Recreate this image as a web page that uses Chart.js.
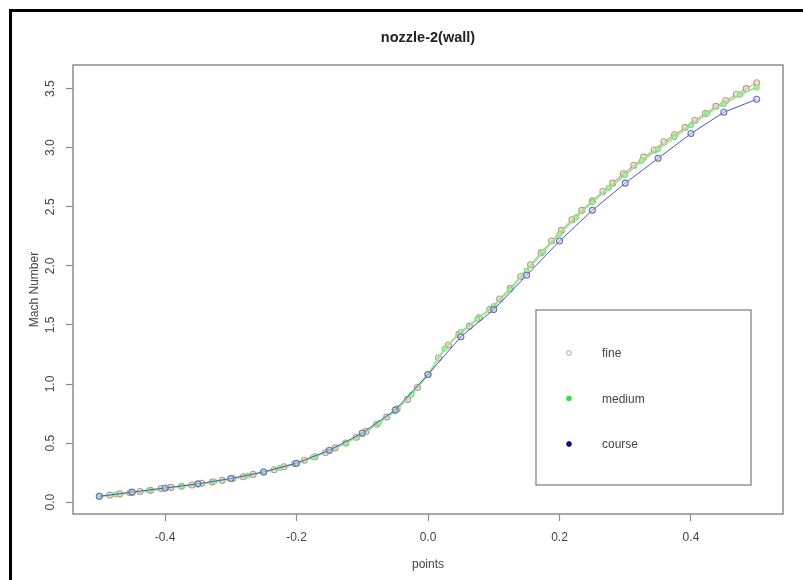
<!DOCTYPE html>
<html>
<head>
<meta charset="utf-8">
<script src="https://cdn.jsdelivr.net/npm/chart.js@4/dist/chart.umd.min.js"></script>
<style>
  html, body { margin: 0; padding: 0; background: #fff; }
  #wrap { width: 803px; height: 580px; position: relative; }
</style>
</head>
<body>
<div id="wrap"><canvas id="c" width="803" height="580"></canvas></div>
<script>
// ---- data ----
const chartTitle = "nozzle-2(wall)";
const xAxisTitle = "points";
const yAxisTitle = "Mach Number";
const seriesNames = ["fine", "medium", "course"];

const xTicks = [-0.4, -0.2, 0.0, 0.2, 0.4];
const yTicks = [0.0, 0.5, 1.0, 1.5, 2.0, 2.5, 3.0, 3.5];

const fineX = [-0.5, -0.484, -0.469, -0.453, -0.438, -0.422, -0.406, -0.391, -0.375, -0.359,
  -0.344, -0.328, -0.313, -0.297, -0.281, -0.266, -0.25, -0.234, -0.219, -0.203,
  -0.188, -0.172, -0.156, -0.141, -0.125, -0.109, -0.094, -0.078, -0.063, -0.047,
  -0.031, -0.016, 0.0, 0.016, 0.031, 0.047, 0.063, 0.078, 0.094, 0.109,
  0.125, 0.141, 0.156, 0.172, 0.188, 0.203, 0.219, 0.234, 0.25, 0.266,
  0.281, 0.297, 0.313, 0.328, 0.344, 0.359, 0.375, 0.391, 0.406, 0.422,
  0.438, 0.453, 0.469, 0.484, 0.5];
const fineY = [0.05, 0.06, 0.07, 0.08, 0.09, 0.10, 0.115, 0.125, 0.135, 0.145,
  0.16, 0.17, 0.185, 0.20, 0.215, 0.235, 0.255, 0.275, 0.30, 0.325,
  0.355, 0.385, 0.42, 0.46, 0.50, 0.55, 0.60, 0.66, 0.72, 0.79,
  0.87, 0.97, 1.08, 1.22, 1.33, 1.42, 1.49, 1.56, 1.63, 1.72,
  1.81, 1.91, 2.01, 2.11, 2.21, 2.30, 2.39, 2.47, 2.55, 2.63,
  2.70, 2.78, 2.85, 2.92, 2.98, 3.05, 3.11, 3.17, 3.23, 3.29,
  3.35, 3.40, 3.45, 3.50, 3.55];

const mediumX = [-0.5, -0.475, -0.45, -0.425, -0.4, -0.375, -0.35, -0.325, -0.3, -0.275,
  -0.25, -0.225, -0.2, -0.175, -0.15, -0.125, -0.1, -0.075, -0.05, -0.025,
  0.0, 0.025, 0.05, 0.075, 0.1, 0.125, 0.15, 0.175, 0.2, 0.225,
  0.25, 0.275, 0.3, 0.325, 0.35, 0.375, 0.4, 0.425, 0.45, 0.475, 0.5];
const mediumY = [0.05, 0.065, 0.08, 0.10, 0.115, 0.135, 0.15, 0.175, 0.195, 0.225,
  0.255, 0.29, 0.33, 0.38, 0.435, 0.50, 0.575, 0.67, 0.77, 0.91,
  1.08, 1.30, 1.44, 1.55, 1.66, 1.80, 1.96, 2.12, 2.27, 2.41,
  2.54, 2.66, 2.77, 2.89, 2.99, 3.09, 3.19, 3.29, 3.37, 3.45, 3.51];

const courseX = [-0.5, -0.45, -0.4, -0.35, -0.3, -0.25, -0.2, -0.15, -0.1, -0.05,
  0.0, 0.05, 0.1, 0.15, 0.2, 0.25, 0.3, 0.35, 0.4, 0.45, 0.5];
const courseY = [0.05, 0.085, 0.12, 0.155, 0.20, 0.255, 0.33, 0.44, 0.585, 0.78,
  1.08, 1.40, 1.63, 1.92, 2.21, 2.47, 2.70, 2.91, 3.12, 3.30, 3.41];

// ---- build chart ----
const toPts = (xs, ys) => xs.map((x, i) => ({ x: x, y: ys[i] }));
const FONT = "'Liberation Sans', Arial, sans-serif";
const TXT = "#444444";

const legendMarkers = [
  { fill: "#ffffff", stroke: "#a8a8a8" },
  { fill: "#3ddc3d", stroke: "#3ddc3d" },
  { fill: "#101080", stroke: "#101080" }
];

const framePlugin = {
  id: "frame",
  beforeDraw(chart) {
    const ctx = chart.ctx;
    ctx.save();
    ctx.fillStyle = "#fff";
    ctx.fillRect(0, 0, chart.width, chart.height);
    ctx.fillStyle = "#000";
    ctx.fillRect(9, 9, chart.width - 9, 3);
    ctx.fillRect(9, 9, 3, chart.height - 9);
    ctx.restore();
  },
  afterDraw(chart) {
    const ctx = chart.ctx;
    const a = chart.chartArea;
    ctx.save();
    // plot box
    ctx.strokeStyle = "#8c8c8c";
    ctx.lineWidth = 1.5;
    ctx.strokeRect(a.left, a.top, a.right - a.left, a.bottom - a.top);
    // title
    ctx.fillStyle = "#222";
    ctx.font = "bold 14.5px " + FONT;
    ctx.textAlign = "center";
    ctx.textBaseline = "middle";
    ctx.fillText(chartTitle, (a.left + a.right) / 2, 38);
    // legend
    const lx = a.left + 463, ly = a.top + 245, lw = 215, lh = 175;
    ctx.strokeStyle = "#7a7a7a";
    ctx.lineWidth = 1.2;
    ctx.strokeRect(lx, ly, lw, lh);
    ctx.font = "12px " + FONT;
    ctx.textAlign = "left";
    seriesNames.forEach((name, i) => {
      const yy = ly + 43 + i * 45.5;
      const m = legendMarkers[i];
      ctx.beginPath();
      ctx.arc(lx + 33, yy, 2.4, 0, Math.PI * 2);
      ctx.fillStyle = m.fill;
      ctx.fill();
      ctx.strokeStyle = m.stroke;
      ctx.lineWidth = 1;
      ctx.stroke();
      ctx.fillStyle = TXT;
      ctx.fillText(name, lx + 66, yy + 1);
    });
    ctx.restore();
  }
};

new Chart(document.getElementById("c"), {
  type: "line",
  data: {
    datasets: [
      {
        label: seriesNames[0],
        data: toPts(fineX, fineY),
        borderColor: "#e6a99c",
        borderWidth: 1.3,
        pointRadius: 3,
        pointBorderWidth: 1.1,
        pointBorderColor: "#b99a82",
        pointBackgroundColor: "rgba(235,220,200,0.6)",
        order: 3
      },
      {
        label: seriesNames[1],
        data: toPts(mediumX, mediumY),
        borderColor: "#9fe49a",
        borderWidth: 2,
        pointRadius: 2.6,
        pointBorderWidth: 1,
        pointBorderColor: "#7fd67a",
        pointBackgroundColor: "#a8ec9f",
        order: 2
      },
      {
        label: seriesNames[2],
        data: toPts(courseX, courseY),
        borderColor: "#4c58c4",
        borderWidth: 1,
        pointRadius: 3,
        pointBorderWidth: 1.1,
        pointBorderColor: "#6a74b8",
        pointBackgroundColor: "rgba(200,205,235,0.5)",
        order: 1
      }
    ]
  },
  options: {
    responsive: false,
    animation: false,
    events: [],
    layout: { padding: { left: 0, right: 20, top: 65, bottom: 0 } },
    plugins: {
      legend: { display: false },
      title: { display: false },
      tooltip: { enabled: false }
    },
    elements: { line: { tension: 0 } },
    scales: {
      x: {
        type: "linear",
        min: -0.54,
        max: 0.54,
        afterBuildTicks: (s) => { s.ticks = xTicks.map(v => ({ value: v })); },
        afterFit: (s) => { s.height = 66; },
        border: { display: false },
        grid: { drawOnChartArea: false, drawTicks: true, tickLength: 7, color: "#8c8c8c", tickWidth: 1.2 },
        ticks: {
          color: TXT,
          font: { family: FONT, size: 12 },
          padding: 9,
          maxRotation: 0,
          autoSkip: false,
          callback: (v) => Number(v).toFixed(1)
        },
        title: {
          display: true,
          text: xAxisTitle,
          color: TXT,
          font: { family: FONT, size: 12 },
          padding: { top: 0, bottom: 8 }
        }
      },
      y: {
        type: "linear",
        min: -0.1,
        max: 3.7,
        afterBuildTicks: (s) => { s.ticks = yTicks.map(v => ({ value: v })); },
        afterFit: (s) => { s.width = 73; },
        border: { display: false },
        grid: { drawOnChartArea: false, drawTicks: true, tickLength: 7, color: "#8c8c8c", tickWidth: 1.2 },
        ticks: {
          color: TXT,
          font: { family: FONT, size: 12 },
          padding: 7,
          minRotation: 90,
          maxRotation: 90,
          crossAlign: "center",
          autoSkip: false,
          callback: (v) => Number(v).toFixed(1)
        },
        title: {
          display: true,
          text: yAxisTitle,
          color: TXT,
          font: { family: FONT, size: 12 },
          padding: { top: 27, bottom: 0 }
        }
      }
    }
  },
  plugins: [framePlugin]
});
</script>
</body>
</html>
